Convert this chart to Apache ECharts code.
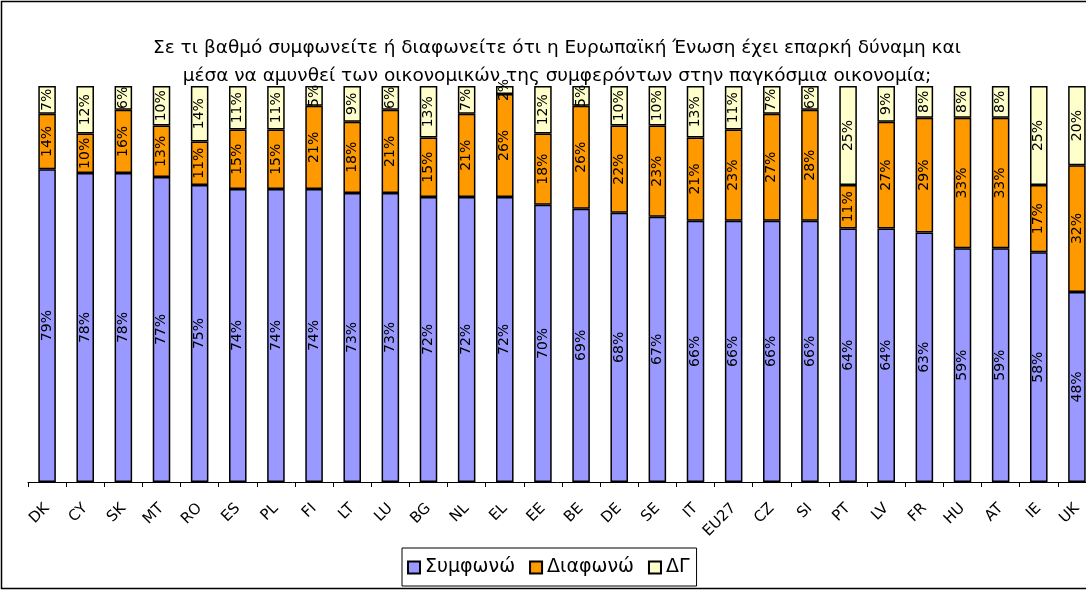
<!DOCTYPE html>
<html>
<head>
<meta charset="utf-8">
<script src="https://cdn.jsdelivr.net/npm/echarts@6/dist/echarts.min.js"></script>
<style>
    html, body { margin: 0; padding: 0; background: #fff; }
    #chart { width: 1086px; height: 590px; }
</style>
</head>
<body>
<div id="chart"></div>
<script>
// χώρες / κατηγορίες
var countries = ['DK', 'CY', 'SK', 'MT', 'RO', 'ES', 'PL', 'FI', 'LT', 'LU', 'BG', 'NL', 'EL', 'EE',
    'BE', 'DE', 'SE', 'IT', 'EU27', 'CZ', 'SI', 'PT', 'LV', 'FR', 'HU', 'AT', 'IE', 'UK'];

// τιμές (%)
var agree = [79, 78, 78, 77, 75, 74, 74, 74, 73, 73, 72, 72, 72, 70, 69, 68, 67, 66, 66, 66, 66, 64, 64, 63, 59, 59, 58, 48];
var disagree = [14, 10, 16, 13, 11, 15, 15, 21, 18, 21, 15, 21, 26, 18, 26, 22, 23, 21, 23, 27, 28, 11, 27, 29, 33, 33, 17, 32];
var dontKnow = [7, 12, 6, 10, 14, 11, 11, 5, 9, 6, 13, 7, 2, 12, 5, 10, 10, 13, 11, 7, 6, 25, 9, 8, 8, 8, 25, 20];

var seriesNames = ['Συμφωνώ', 'Διαφωνώ', 'ΔΓ'];
var colors = ['#9999FF', '#FF9900', '#FFFFCC'];

var font = '"DejaVu Sans", Verdana, sans-serif';

var chart = echarts.init(document.getElementById('chart'));

// κοινές ρυθμίσεις για κάθε σειρά
function makeSeries(name, data, color) {
    return {
        name: name,
        type: 'bar',
        stack: 'total',
        barWidth: '46%',
        data: data,
        itemStyle: {
            color: color,
            borderColor: '#000',
            borderWidth: 1.5
        },
        label: {
            show: true,
            position: 'inside',
            rotate: 90,
            fontFamily: font,
            fontSize: 14,
            color: '#000',
            formatter: '{c}%'
        },
        emphasis: { disabled: true }
    };
}

var option = {
    animation: false,
    title: {
        text: 'Σε τι βαθμό συμφωνείτε ή διαφωνείτε ότι η Ευρωπαϊκή Ένωση έχει επαρκή δύναμη και\nμέσα να αμυνθεί των οικονομικών της συμφερόντων στην παγκόσμια οικονομία;',
        left: 552,
        textAlign: 'center',
        top: 29,
        textStyle: {
            fontFamily: font,
            fontSize: 18.5,
            fontWeight: 'normal',
            color: '#000',
            lineHeight: 28
        }
    },
    legend: {
        data: seriesNames,
        left: 402,
        top: 548,
        icon: 'rect',
        itemWidth: 12,
        itemHeight: 12,
        itemGap: 14,
        borderColor: '#000',
        borderWidth: 1,
        padding: [10, 7, 9, 5],
        textStyle: {
            fontFamily: font,
            fontSize: 19,
            color: '#000'
        }
    },
    grid: {
        left: 28,
        top: 86,
        width: 1068,
        height: 396,
        outerBoundsMode: 'none'
    },
    xAxis: {
        type: 'category',
        data: countries,
        axisLine: { lineStyle: { color: '#000', width: 1 } },
        axisTick: { show: true, length: 5, lineStyle: { color: '#000' } },
        axisLabel: {
            rotate: 45,
            interval: 0,
            margin: 24,
            fontFamily: font,
            fontSize: 15,
            color: '#000'
        }
    },
    yAxis: {
        type: 'value',
        min: 0,
        max: 100,
        show: false,
        splitLine: { show: false }
    },
    graphic: [{
        type: 'rect',
        shape: { x: 1.5, y: 1.5, width: 1100, height: 587 },
        style: { fill: 'none', stroke: '#000', lineWidth: 1.5 },
        silent: true
    }],
    series: [
        makeSeries(seriesNames[0], agree, colors[0]),
        makeSeries(seriesNames[1], disagree, colors[1]),
        makeSeries(seriesNames[2], dontKnow, colors[2])
    ]
};

chart.setOption(option);
</script>
</body>
</html>
